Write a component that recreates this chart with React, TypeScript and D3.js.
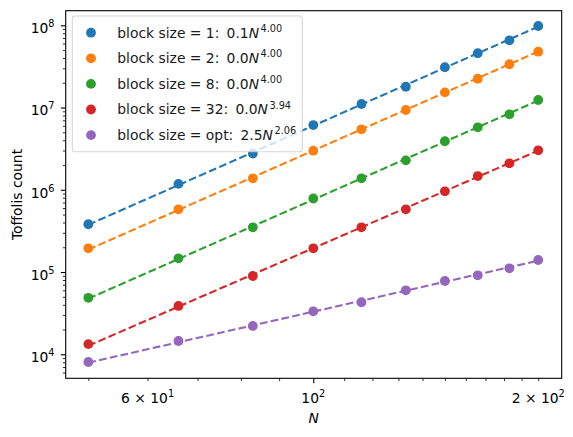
import { useEffect, useRef } from "react";
import * as d3 from "d3";

// problem sizes on the x axis
const nValues = [50, 66, 83, 100, 116, 133, 150, 166, 183, 200];

// Toffoli counts per block size
const blockSize1 = [3.81e5, 1.18e6, 2.76e6, 6.13e6, 1.105e7, 1.79e7, 3.09e7, 4.57e7, 6.57e7, 9.8e7];
const blockSize2 = [1.945e5, 5.79e5, 1.38e6, 2.99e6, 5.44e6, 9.34e6, 1.53e7, 2.24e7, 3.36e7, 4.78e7];
const blockSize8 = [4.86e4, 1.47e5, 3.5e5, 7.84e5, 1.38e6, 2.28e6, 3.89e6, 5.75e6, 8.28e6, 1.235e7];
const blockSize32 = [1.33e4, 3.87e4, 8.95e4, 1.945e5, 3.5e5, 5.79e5, 9.59e5, 1.47e6, 2.1e6, 3.02e6];
const blockSizeOpt = [8.06e3, 1.45e4, 2.21e4, 3.33e4, 4.29e4, 6.0e4, 7.78e4, 9.13e4, 1.11e5, 1.4e5];

const blockNames = ["1", "2", "8", "32", "opt"];
const fitExponents = [4.0, 4.0, 4.0, 3.94, 2.06];
const colors = ["#1f77b4", "#ff7f0e", "#2ca02c", "#d62728", "#9467bd"];

const xMajorTicks = [100];
const xMinorTicks = [50, 60, 70, 80, 90, 110, 120, 130, 140, 150, 160, 170, 180, 190, 200];
const xLabelled = [
  { v: 60, mant: "6 \u00d7 10", exp: "1" },
  { v: 100, mant: "10", exp: "2" },
  { v: 200, mant: "2 \u00d7 10", exp: "2" },
];
const yDecades = [4, 5, 6, 7, 8];

const width = 573;
const height = 437;
const margin = { top: 10.7, right: 11.3, bottom: 58.7, left: 65.7 };
const font = "DejaVu Sans";
const fs = 13.89;

export default function App() {
  const svgRef = useRef<SVGSVGElement | null>(null);

  useEffect(() => {
    document.body.style.margin = "0";
    const svg = d3.select(svgRef.current);
    svg.selectAll("*").remove();

    const series = [blockSize1, blockSize2, blockSize8, blockSize32, blockSizeOpt];

    const x = d3
      .scaleLog()
      .domain([46.63, 215])
      .range([margin.left, width - margin.right]);
    const y = d3
      .scaleLog()
      .domain([Math.pow(10, 3.708), Math.pow(10, 8.1775)])
      .range([height - margin.bottom, margin.top]);

    const bottom = height - margin.bottom;
    const left = margin.left;

    // power-law fits with the exponent fixed, intercept by least squares in log space
    const meanLogN = d3.mean(nValues, (n) => Math.log10(n)) as number;
    const fits = series.map((vals, i) => {
      const b = fitExponents[i];
      const logA = (d3.mean(vals, (v) => Math.log10(v)) as number) - b * meanLogN;
      return { a: Math.pow(10, logA), b };
    });

    // scatter points
    series.forEach((vals, i) => {
      svg
        .append("g")
        .selectAll("circle")
        .data(vals)
        .join("circle")
        .attr("cx", (_, j) => x(nValues[j]))
        .attr("cy", (d) => y(d))
        .attr("r", 4.9)
        .attr("fill", colors[i]);
    });

    // dashed fit lines, drawn over the points
    series.forEach((_, i) => {
      const f = fits[i];
      const fitLine = d3
        .line<number>()
        .x((n) => x(n))
        .y((n) => y(f.a * Math.pow(n, f.b)));
      svg
        .append("path")
        .attr("d", fitLine(nValues))
        .attr("fill", "none")
        .attr("stroke", colors[i])
        .attr("stroke-width", 2.08)
        .attr("stroke-dasharray", "7.7,3.3");
    });

    // x ticks
    const xAxisMinor = d3
      .axisBottom(x)
      .tickValues(xMinorTicks)
      .tickSize(2.78)
      .tickFormat(() => "");
    const gxMinor = svg.append("g").attr("transform", `translate(0,${bottom})`).call(xAxisMinor);
    gxMinor.select(".domain").remove();
    gxMinor.selectAll("line").attr("stroke", "#000").attr("stroke-width", 0.83);

    const xAxisMajor = d3
      .axisBottom(x)
      .tickValues(xMajorTicks)
      .tickSize(4.86)
      .tickFormat(() => "");
    const gxMajor = svg.append("g").attr("transform", `translate(0,${bottom})`).call(xAxisMajor);
    gxMajor.select(".domain").remove();
    gxMajor.selectAll("line").attr("stroke", "#000").attr("stroke-width", 1.1);

    // y ticks
    const [yLo, yHi] = y.domain();
    const yMinor: number[] = [];
    yDecades.concat([3]).forEach((d) => {
      for (let k = 2; k <= 9; k++) {
        const v = k * Math.pow(10, d);
        if (v >= yLo && v <= yHi) yMinor.push(v);
      }
    });
    const yAxisMinor = d3.axisLeft(y).tickValues(yMinor).tickSize(2.78).tickFormat(() => "");
    const gyMinor = svg.append("g").attr("transform", `translate(${left},0)`).call(yAxisMinor);
    gyMinor.select(".domain").remove();
    gyMinor.selectAll("line").attr("stroke", "#000").attr("stroke-width", 0.83);

    const yAxisMajor = d3
      .axisLeft(y)
      .tickValues(yDecades.map((d) => Math.pow(10, d)))
      .tickSize(4.86)
      .tickFormat(() => "");
    const gyMajor = svg.append("g").attr("transform", `translate(${left},0)`).call(yAxisMajor);
    gyMajor.select(".domain").remove();
    gyMajor.selectAll("line").attr("stroke", "#000").attr("stroke-width", 1.1);

    // axes frame
    svg
      .append("rect")
      .attr("x", left)
      .attr("y", margin.top)
      .attr("width", width - margin.right - left)
      .attr("height", bottom - margin.top)
      .attr("fill", "none")
      .attr("stroke", "#000")
      .attr("stroke-width", 1.1);

    const powerLabel = (px: number, py: number, anchor: string, mant: string, exp: string) => {
      const t = svg
        .append("text")
        .attr("x", px)
        .attr("y", py)
        .attr("text-anchor", anchor)
        .attr("font-family", font)
        .attr("font-size", fs)
        .attr("fill", "#000");
      t.append("tspan").text(mant);
      t.append("tspan").attr("dy", -6).attr("font-size", 9.72).text(exp);
    };

    xLabelled.forEach((l) => powerLabel(x(l.v), 403, "middle", l.mant, l.exp));
    yDecades.forEach((d) => powerLabel(54.5, y(Math.pow(10, d)) + 7.8, "end", "10", String(d)));

    // axis titles
    svg
      .append("text")
      .attr("x", (left + width - margin.right) / 2)
      .attr("y", 423.3)
      .attr("text-anchor", "middle")
      .attr("font-family", font)
      .attr("font-style", "italic")
      .attr("font-size", fs)
      .text("N");

    svg
      .append("text")
      .attr("transform", `translate(21.7,${(margin.top + bottom) / 2}) rotate(-90)`)
      .attr("text-anchor", "middle")
      .attr("font-family", font)
      .attr("font-size", fs)
      .text("Toffolis count");

    // legend
    const legend = svg.append("g");
    legend
      .append("rect")
      .attr("x", 72.3)
      .attr("y", 16)
      .attr("width", 230)
      .attr("height", 135.7)
      .attr("rx", 2.8)
      .attr("fill", "#fff")
      .attr("fill-opacity", 0.8)
      .attr("stroke", "#cccccc")
      .attr("stroke-opacity", 0.8)
      .attr("stroke-width", 1.1);

    blockNames.forEach((name, i) => {
      const cy = 32.7 + i * 25.6;
      legend.append("circle").attr("cx", 91).attr("cy", cy).attr("r", 4.9).attr("fill", colors[i]);
      const t = legend
        .append("text")
        .attr("x", 117.3)
        .attr("y", cy + 4.8)
        .attr("font-family", font)
        .attr("font-size", fs)
        .attr("fill", "#1a1a1a");
      t.append("tspan").text(`block size = ${name}:`);
      t.append("tspan").attr("dx", 7.2).text(fits[i].a.toFixed(1));
      t.append("tspan").attr("font-style", "italic").text("N");
      t.append("tspan")
        .attr("dx", 1.5)
        .attr("dy", -5.8)
        .attr("font-size", 9.72)
        .text(fits[i].b.toFixed(2));
    });
  }, []);

  return (
    <svg
      ref={svgRef}
      width={width}
      height={height}
      style={{ display: "block", backgroundColor: "#ffffff" }}
    />
  );
}
